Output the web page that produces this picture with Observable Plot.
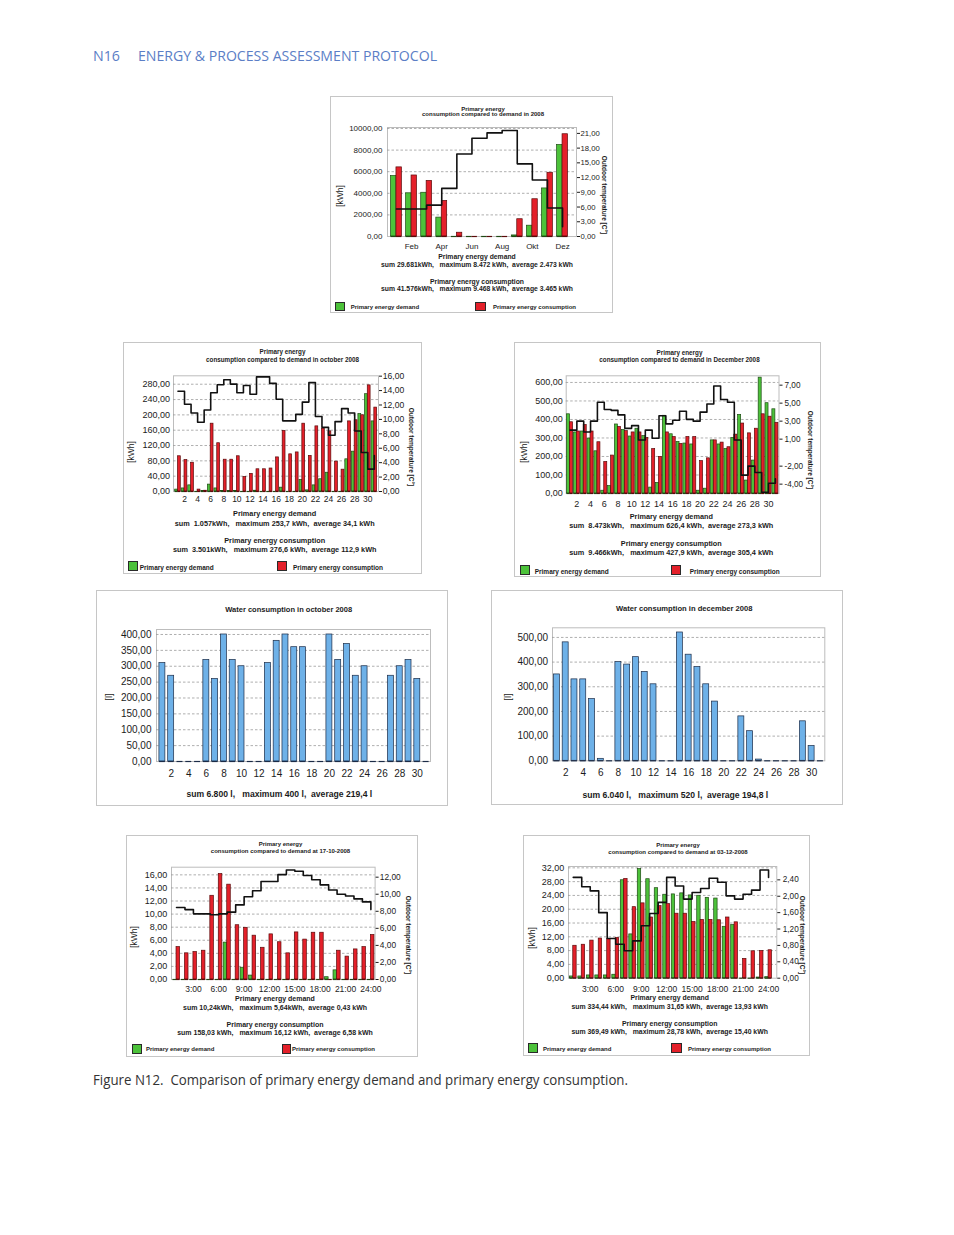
<!DOCTYPE html>
<html>
<head>
<meta charset="utf-8">
<script src="https://cdn.jsdelivr.net/npm/d3@7"></script>
<script src="https://cdn.jsdelivr.net/npm/@observablehq/plot@0.6"></script>
<style>
html,body{margin:0;padding:0;background:#fff;}
#page{position:relative;width:954px;height:1235px;overflow:hidden;background:#fff;font-family:"Liberation Sans",Arial,sans-serif;}
.panel{position:absolute;background:#fff;box-shadow:inset 0 0 0 1px #c6c6c6;}
.t{position:absolute;white-space:pre;line-height:1;color:#1b1b1b;transform-origin:0 0;}
.sq{position:absolute;box-sizing:border-box;border:1px solid #2a2a2a;}
</style>
</head>
<body>
<div id="page"></div>
<script>
// ================= DATA =================
const monthLabels = ["Jan","Feb","Mär","Apr","Mai","Jun","Jul","Aug","Sep","Okt","Nov","Dez"];
const months = [1,2,3,4,5,6,7,8,9,10,11,12];
const monthTicks = [2,4,6,8,10,12];
const days = d3.range(1, 32);
const dayTicks = [2,4,6,8,10,12,14,16,18,20,22,24,26,28,30];
const hours = d3.range(1, 25);
const hourTicks = [3,6,9,12,15,18,21,24];

// Annual 2008 (kWh, °C)
const yearDemand      = [5600,4000,4050,1750,0,0,0,0,100,1000,4450,8472];
const yearConsumption = [6400,5650,5150,3300,350,0,0,0,1600,3450,5900,9468];
const yearTemp        = [5.6,5.6,6.4,9.8,16.8,20.0,21.1,21.6,14.8,11.5,5.8,2.0];
const yearYTicks = [0,2000,4000,6000,8000,10000];
const yearTTicks = [0,3,6,9,12,15,18,21];

// October 2008 daily
const octDemand      = [5,8,16,0,1,18,8,1,1,1,0,0,2,0,0,0,10,0,0,30,3,16,32,49,0,0,84,104,202,254,183];
const octConsumption = [92,82,75,5,2,177,126,83,83,92,38,46,58,58,60,89,158,97,102,177,93,170,164,157,78,57,183,186,199,277,219];
const octTemp        = [13.9,12.1,10.9,9.6,11.3,13.7,14.8,15.5,14.9,13.7,14.7,13.5,15.9,15.9,15.0,12.8,9.8,9.8,10.7,12.4,15.1,10.4,8.9,7.8,9.7,11.5,10.9,8.4,5.4,3.1,5.0];
const octYTicks = [0,40,80,120,160,200,240,280];
const octTTicks = [0,2,4,6,8,10,12,14,16];

// December 2008 daily
const decDemand      = [428,330,335,297,228,15,40,373,343,308,350,310,32,57,420,320,278,270,265,15,26,287,265,240,300,425,70,178,626,488,455];
const decConsumption = [385,335,370,335,277,170,205,360,337,330,330,300,240,198,330,305,268,305,305,175,190,287,275,250,318,378,325,350,428,415,382];
const decTemp        = [2.0,3.0,1.8,3.0,5.1,4.3,4.2,3.7,2.2,2.5,0.9,2.0,1.1,3.6,2.7,3.1,4.1,3.2,3.0,4.0,4.9,6.9,5.4,5.1,0.9,-3.0,-2.0,-2.7,-4.9,-3.9,-3.4];
const decYTicks = [0,100,200,300,400,500,600];
const decTTicks = [-4,-2,1,3,5,7];

// Water consumption (l)
const waterOct = [310,270,0,0,0,320,260,400,320,300,0,0,310,380,400,360,360,0,0,400,320,370,270,300,0,0,270,300,320,260,0];
const waterDec = [350,480,330,330,250,8,0,400,390,420,360,310,0,0,520,430,380,310,240,0,0,180,120,5,0,0,0,0,160,60,0];
const waterOctTicks = [0,50,100,150,200,250,300,350,400];
const waterDecTicks = [0,100,200,300,400,500];

// 17-10-2008 hourly
const h1710Demand      = [0,0,0,0,0,0,5.64,0,1.8,0.6,0,0,0,0,0,0,0,0,0.35,1.4,0,0,0,0];
const h1710Consumption = [4.95,4.0,4.2,4.4,12.8,16.12,14.5,8.3,7.9,6.7,4.85,6.9,5.7,4.0,7.2,6.1,7.15,7.15,0,4.4,3.5,4.6,4.95,6.8];
const h1710Temp        = [8.44,8.2,7.7,7.7,7.6,7.7,7.9,8.75,9.7,10.4,11.5,11.5,12.3,12.85,12.7,12.2,11.7,11.1,10.5,10.0,9.8,9.45,9.1,8.2];
const h1710YTicks = [0,2,4,6,8,10,12,14,16];
const h1710TTicks = [0,2,4,6,8,10,12];

// 03-12-2008 hourly
const h0312Demand      = [0.5,0.5,0.8,0.8,0.8,1.0,28.4,12.7,31.65,28.7,26.1,24.2,24.3,24.6,24.0,23.9,23.3,23.1,14.9,15.4,0,0,0.2,0.3];
const h0312Consumption = [9.4,9.7,10.9,11.5,11.4,11.7,28.78,20.6,21.7,17.6,20.9,21.5,18.7,18.7,16.3,16.9,16.9,16.8,17.6,16.2,5.6,7.8,7.9,8.1];
const h0312Temp        = [2.46,2.23,2.13,1.60,0.97,0.83,0.67,0.91,1.28,1.58,1.85,2.46,2.25,1.93,2.09,2.19,2.44,2.34,2.01,1.93,2.05,2.15,2.64,2.46];
const h0312YTicks = [0,4,8,12,16,20,24,28,32];
const h0312TTicks = [0,0.4,0.8,1.2,1.6,2.0,2.4];

// Texts
const headerNum = "N16";
const headerText = "ENERGY & PROCESS ASSESSMENT PROTOCOL";
const captionText = "Figure N12.  Comparison of primary energy demand and primary energy consumption.";
const legendDemand = "Primary energy demand";
const legendConsumption = "Primary energy consumption";
const tempTitle = "Outdoor temperature [C°]";
const statsYear = ["sum 29.681kWh,   maximum 8.472 kWh,  average 2.473 kWh", "sum 41.576kWh,   maximum 9.468 kWh,  average 3.465 kWh"];
const statsOct  = ["sum  1.057kWh,   maximum 253,7 kWh,  average 34,1 kWh", "sum  3.501kWh,   maximum 276,6 kWh,  average 112,9 kWh"];
const statsDec  = ["sum  8.473kWh,   maximum 626,4 kWh,  average 273,3 kWh", "sum  9.466kWh,   maximum 427,9 kWh,  average 305,4 kWh"];
const stats1710 = ["sum 10,24kWh,   maximum 5,64kWh,  average 0,43 kWh", "sum 158,03 kWh,   maximum 16,12 kWh,  average 6,58 kWh"];
const stats0312 = ["sum 334,44 kWh,   maximum 31,65 kWh,  average 13,93 kWh", "sum 369,49 kWh,   maximum 28,78 kWh,  average 15,40 kWh"];
const statsWaterOct = "sum 6.800 l,   maximum 400 l,  average 219,4 l";
const statsWaterDec = "sum 6.040 l,   maximum 520 l,  average 194,8 l";

// ================= STYLE =================
const FONT = '"Liberation Sans", Arial, sans-serif';
const GREEN = "#4cc23a", GREEN_S = "#1e4a14";
const RED = "#e4202a", RED_S = "#5a0a0a";
const BLUE = "#6eb1e8", BLUE_S = "#1b2b47";
const deFmt = v => (+v).toFixed(2).replace(".", ",");
const page = document.getElementById("page");

function addText(div, px, py, t) {
  const e = document.createElement("div");
  e.className = "t";
  e.textContent = t.s;
  e.style.left = (t.x - px) + "px";
  e.style.top = (t.y - py) + "px";
  e.style.fontSize = t.size + "px";
  if (t.bold) e.style.fontWeight = "bold";
  const tr = t.anchor === "start" ? "translate(0,-50%)" : "translate(-50%,-50%)";
  e.style.transform = `rotate(${t.rotate || 0}deg) ${tr}`;
  div.appendChild(e);
}
function addSquare(div, px, py, q) {
  const e = document.createElement("div");
  e.className = "sq";
  Object.assign(e.style, {left: (q.r[0]-px)+"px", top: (q.r[1]-py)+"px", width: q.r[2]+"px", height: q.r[3]+"px", background: q.fill});
  div.appendChild(e);
}

function buildPanel(C) {
  const [px, py, pw, ph] = C.box;
  const div = document.createElement("div");
  div.className = "panel";
  Object.assign(div.style, {left: px+"px", top: py+"px", width: pw+"px", height: ph+"px"});
  page.appendChild(div);

  const [fx1, fy1, fx2, fy2] = C.frame;
  const mb = 30;
  const dims = {width: pw, height: fy2 - py + mb, marginLeft: fx1 - px, marginRight: px + pw - fx2, marginTop: fy1 - py, marginBottom: mb};
  const svgStyle = {position: "absolute", left: "0px", top: "0px", background: "transparent", overflow: "visible",
                    fontFamily: FONT, fontSize: C.tick + "px", color: "#1b1b1b", maxWidth: "none"};
  const xScale = {domain: C.xDomain, insetLeft: C.inset[0], insetRight: C.inset[1]};
  const marks = [
    Plot.frame({stroke: "#bdbdbd", strokeWidth: 1}),
    Plot.ruleY(C.yTicks.filter(t => t > 0), {stroke: "#9a9a9a", strokeWidth: 0.8, strokeDasharray: "2.5,2"})
  ];
  for (const s of C.series) {
    const rows = s.values.map((v, i) => ({k: C.xKeys[i], v}));
    const x1 = d => d.k + s.span[0] * C.barHalf, x2 = d => d.k + s.span[1] * C.barHalf;
    marks.push(Plot.rectY(rows, {x1, x2, y1: 0, y2: "v", fill: s.fill, stroke: s.stroke, strokeWidth: 0.7}));
    marks.push(Plot.ruleY(rows, {x1, x2, y: 0, stroke: s.stroke, strokeWidth: 1.2}));
  }
  marks.push(Plot.axisY(C.yTicks, {tickSize: 0, tickPadding: C.padL, tickFormat: deFmt, label: null, fontSize: C.tick}));
  marks.push(Plot.axisX(C.xTicks, {tickSize: 0, tickPadding: C.xPad, tickFormat: C.xFmt, label: null, fontSize: C.xTick || C.tick}));
  div.appendChild(Plot.plot({...dims, style: svgStyle, x: xScale, y: {domain: C.yDomain}, marks}));

  if (C.temp) {
    const rows = C.temp.map((v, i) => ({k: C.xKeys[i], v}));
    div.appendChild(Plot.plot({...dims, style: svgStyle, x: {...xScale, axis: null}, y: {domain: C.rDomain}, marks: [
      Plot.line(rows, {x: "k", y: "v", curve: "step-after", stroke: "#111", strokeWidth: 1.6}),
      Plot.axisY(C.rTicks, {anchor: "right", tickSize: 3, tickPadding: C.padR, tickFormat: deFmt, label: null, fontSize: C.rTick})
    ]}));
  }
  for (const t of C.texts) addText(div, px, py, t);
  for (const q of (C.squares || [])) addSquare(div, px, py, q);
}

const twoSeries = (dem, con) => [
  {values: dem, fill: GREEN, stroke: GREEN_S, span: [-1, 0]},
  {values: con, fill: RED, stroke: RED_S, span: [0, 1]}
];
const energyTexts = (o) => [
  {s: "Primary energy", x: o.tx, y: o.ty[0], size: o.ts, bold: true},
  {s: o.title, x: o.tx, y: o.ty[1], size: o.ts, bold: true},
  {s: "[kWh]", x: o.kx, y: o.ky, size: 8.5, rotate: -90},
  {s: tempTitle, x: o.rx, y: o.ry, size: 6.5, bold: true, rotate: 90},
  {s: legendDemand, x: o.sx, y: o.sy[0], size: o.ss, bold: true},
  {s: o.stats[0], x: o.sx, y: o.sy[1], size: o.ss, bold: true},
  {s: legendConsumption, x: o.sx, y: o.sy[2], size: o.ss, bold: true},
  {s: o.stats[1], x: o.sx, y: o.sy[3], size: o.ss, bold: true},
  {s: legendDemand, x: o.lg[0], y: o.lg[2], size: o.ls, bold: true, anchor: "start"},
  {s: legendConsumption, x: o.lg[1], y: o.lg[2], size: o.ls, bold: true, anchor: "start"}
];

const panels = [
  { // annual
    box: [330, 96, 283, 217], frame: [387, 127, 576, 236],
    xDomain: [0.5, 12.5], inset: [1.4, 6.4], xKeys: months, xTicks: monthTicks, xFmt: i => monthLabels[i-1],
    yDomain: [0, 10092], yTicks: yearYTicks, rDomain: [0, 22.2], rTicks: yearTTicks,
    tick: 8, rTick: 7.7, padL: 5, padR: 1, xPad: 7, barHalf: 0.36,
    series: twoSeries(yearDemand, yearConsumption), temp: yearTemp,
    texts: energyTexts({title: "consumption compared to demand in 2008", tx: 483, ty: [108.7, 114.3], ts: 6,
      kx: 340, ky: 196, rx: 604, ry: 195, sx: 477, sy: [257, 265, 281.7, 289.3], ss: 6.8, stats: statsYear,
      lg: [350.7, 493, 306.7], ls: 6}),
    squares: [{r: [335, 302, 10, 9], fill: GREEN}, {r: [475, 302, 11, 9], fill: RED}]
  },
  { // october daily
    box: [123, 342, 299, 232], frame: [173, 375.3, 378, 491],
    xDomain: [0.5, 31.5], inset: [1.2, 0.9], xKeys: days, xTicks: dayTicks, xFmt: d => d,
    yDomain: [0, 302], yTicks: octYTicks, rDomain: [0, 16.05], rTicks: octTTicks,
    tick: 9, rTick: 8.6, xTick: 8.5, padL: 3.5, padR: 1.3, xPad: 4.6, barHalf: 0.43,
    series: twoSeries(octDemand, octConsumption), temp: octTemp,
    texts: energyTexts({title: "consumption compared to demand in october 2008", tx: 282.5, ty: [352, 359.7], ts: 6.3,
      kx: 131.3, ky: 452, rx: 411.3, ry: 447, sx: 274.7, sy: [514.3, 523.7, 541, 550.3], ss: 7.3, stats: statsOct,
      lg: [139.7, 293, 567.7], ls: 6.5}),
    squares: [{r: [128, 561, 10, 10], fill: GREEN}, {r: [277, 561, 10, 10], fill: RED}]
  },
  { // december daily
    box: [514, 342, 307, 235], frame: [565.7, 375.3, 778.5, 493],
    xDomain: [0.5, 31.5], inset: [0.4, 0.2], xKeys: days, xTicks: dayTicks, xFmt: d => d,
    yDomain: [0, 636], yTicks: decYTicks, rDomain: [-5.04, 8.04], rTicks: decTTicks,
    tick: 9, rTick: 8.2, xTick: 9, padL: 3.4, padR: 2.5, xPad: 6.8, barHalf: 0.44,
    series: twoSeries(decDemand, decConsumption), temp: decTemp,
    texts: energyTexts({title: "consumption compared to demand in December 2008", tx: 679.5, ty: [353, 360.3], ts: 6.3,
      kx: 524, ky: 452, rx: 810, ry: 449.5, sx: 671.3, sy: [517, 526, 543.7, 553], ss: 7.3, stats: statsDec,
      lg: [534.7, 689.7, 572], ls: 6.5}),
    squares: [{r: [520, 565, 10, 10], fill: GREEN}, {r: [670.7, 565, 10, 10], fill: RED}]
  },
  { // water october
    box: [96, 590, 352, 216], frame: [156, 629, 430, 761],
    xDomain: [0.5, 31.5], inset: [1.5, 0], xKeys: days, xTicks: dayTicks, xFmt: d => d,
    yDomain: [0, 415.7], yTicks: waterOctTicks,
    tick: 10, padL: 5, xPad: 8.7, barHalf: 0.34,
    series: [{values: waterOct, fill: BLUE, stroke: BLUE_S, span: [-1, 1]}],
    texts: [
      {s: "Water consumption in october 2008", x: 288.7, y: 610, size: 7.5, bold: true},
      {s: "[l]", x: 109.3, y: 697.3, size: 9.5, rotate: -90},
      {s: statsWaterOct, x: 279.3, y: 794, size: 8.6, bold: true}
    ]
  },
  { // water december
    box: [491, 590, 352, 215], frame: [552, 627.3, 824.3, 760.3],
    xDomain: [0.5, 31.5], inset: [0, 0], xKeys: days, xTicks: dayTicks, xFmt: d => d,
    yDomain: [0, 539], yTicks: waterDecTicks,
    tick: 10, padL: 4.5, xPad: 7.8, barHalf: 0.34,
    series: [{values: waterDec, fill: BLUE, stroke: BLUE_S, span: [-1, 1]}],
    texts: [
      {s: "Water consumption in december 2008", x: 684.3, y: 609, size: 7.6, bold: true},
      {s: "[l]", x: 507.7, y: 697.3, size: 9.5, rotate: -90},
      {s: statsWaterDec, x: 675.3, y: 795, size: 8.6, bold: true}
    ]
  },
  { // 17-10-2008 hourly
    box: [126, 835, 292, 222], frame: [171, 866.7, 374.6, 979],
    xDomain: [0.5, 24.5], inset: [0.8, 0], xKeys: hours, xTicks: hourTicks, xFmt: h => h + ":00",
    yDomain: [0, 17.17], yTicks: h1710YTicks, rDomain: [0, 13.17], rTicks: h1710TTicks,
    tick: 9, rTick: 8.4, xTick: 8.5, padL: 4.3, padR: 1.7, xPad: 6.8, barHalf: 0.42,
    series: twoSeries(h1710Demand, h1710Consumption), temp: h1710Temp,
    texts: energyTexts({title: "consumption compared to demand at 17-10-2008", tx: 280.5, ty: [844, 850.7], ts: 6,
      kx: 134.3, ky: 937, rx: 407.7, ry: 935, sx: 275, sy: [998.3, 1006.7, 1024, 1032.3], ss: 7.0, stats: stats1710,
      lg: [146, 292, 1049.3], ls: 6}),
    squares: [{r: [131.5, 1044, 10, 10], fill: GREEN}, {r: [281.5, 1044, 9, 10], fill: RED}]
  },
  { // 03-12-2008 hourly
    box: [523, 835, 287, 221], frame: [568, 866, 776.3, 977.7],
    xDomain: [0.5, 24.5], inset: [0.5, 4], xKeys: hours, xTicks: hourTicks, xFmt: h => h + ":00",
    yDomain: [0, 32.39], yTicks: h0312YTicks, rDomain: [0, 2.726], rTicks: h0312TTicks,
    tick: 9, rTick: 8.2, xTick: 8.5, padL: 4.3, padR: 3, xPad: 8.1, barHalf: 0.4,
    series: twoSeries(h0312Demand, h0312Consumption), temp: h0312Temp,
    texts: energyTexts({title: "consumption compared to demand at 03-12-2008", tx: 678, ty: [845, 851.7], ts: 6,
      kx: 532.3, ky: 938, rx: 802.3, ry: 935, sx: 669.7, sy: [998.3, 1007.3, 1023.7, 1031.7], ss: 6.9, stats: stats0312,
      lg: [543, 688, 1049], ls: 6}),
    squares: [{r: [528, 1043, 10, 10], fill: GREEN}, {r: [671, 1043, 11, 10], fill: RED}]
  }
];
panels.forEach(buildPanel);

// Header & caption
const NS = "http://www.w3.org/2000/svg";
const deco = document.createElementNS(NS, "svg");
deco.setAttribute("width", 954); deco.setAttribute("height", 1235);
deco.style.position = "absolute"; deco.style.left = "0"; deco.style.top = "0"; deco.style.pointerEvents = "none";
function svgText(s, x, y, size, fill, len) {
  const t = document.createElementNS(NS, "text");
  t.textContent = s;
  t.setAttribute("x", x); t.setAttribute("y", y);
  t.setAttribute("font-size", size); t.setAttribute("fill", fill);
  t.setAttribute("font-family", '"Open Sans", "Noto Sans", sans-serif');
  t.setAttribute("textLength", len); t.setAttribute("lengthAdjust", "spacingAndGlyphs");
  t.style.whiteSpace = "pre";
  deco.appendChild(t);
}
svgText(headerNum, 93, 61, 14.5, "#5b7ec6", 27);
svgText(headerText, 138, 61, 14.5, "#5b7ec6", 299);
svgText(captionText, 93, 1085, 14.5, "#333333", 535);
page.appendChild(deco);
</script>
</body>
</html>
